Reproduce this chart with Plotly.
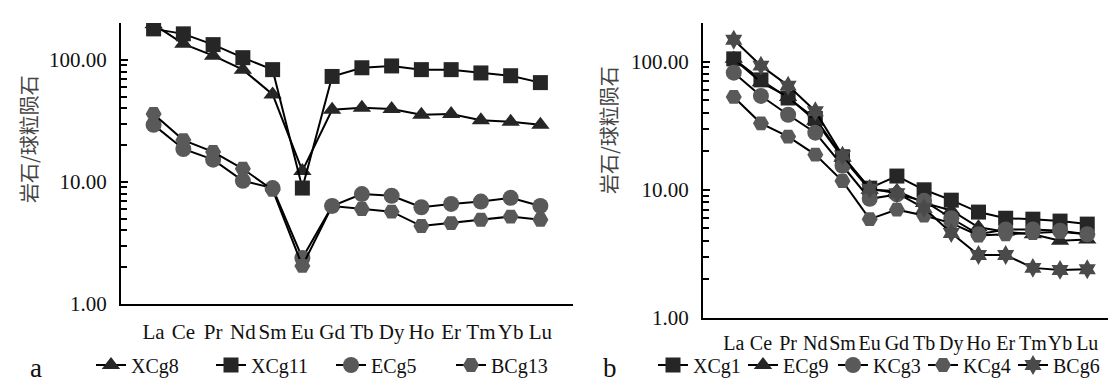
import plotly.graph_objects as go

ree = ["La", "Ce", "Pr", "Nd", "Sm", "Eu", "Gd", "Tb", "Dy", "Ho", "Er", "Tm", "Yb", "Lu"]

# panel a
xcg8 = [195, 135, 108, 83, 52, 12.3, 39, 40.5, 39.5, 35.4, 36, 32, 31, 29.3]
xcg11 = [179, 163, 133, 104, 83, 8.9, 73, 86, 89, 83, 83, 78, 74, 65]
ecg5 = [29.3, 18.6, 15.2, 10.2, 8.9, 2.38, 6.35, 7.95, 7.7, 6.2, 6.6, 6.9, 7.4, 6.35]
bcg13 = [36, 22, 17.6, 12.8, 8.6, 2.05, 6.35, 6.0, 5.7, 4.35, 4.6, 4.9, 5.2, 4.9]

# panel b
xcg1 = [105, 72, 52, 36, 18.1, 10.3, 12.8, 10, 8.3, 6.7, 6.0, 5.9, 5.7, 5.4]
ecg9 = [105, 69, 53, 34.6, 17.8, 10, 9.8, 7.9, 6.9, 5.1, 4.7, 4.5, 4.0, 4.1]
kcg3 = [82, 54, 38.5, 27.9, 15.4, 8.5, 9.2, 8.2, 6.0, 4.5, 4.9, 4.9, 4.8, 4.5]
kcg4 = [53, 33, 26, 18.8, 11.7, 5.9, 7.0, 6.3, 5.5, 4.4, 4.5, 4.6, 4.7, 4.5]
bcg6 = [148, 93, 65, 41, 18.5, 10.2, 9.4, 7.2, 4.6, 3.1, 3.1, 2.46, 2.37, 2.4]

ytick_vals = [1, 10, 100]
ytick_text = ["1.00", "10.00", "100.00"]
minor_vals = [2, 3, 4, 5, 6, 7, 8, 9, 20, 30, 40, 50, 60, 70, 80, 90, 200]

W, H = 1116, 385
DARK = "#262626"
GREY = "#595959"
STAR = "#4a4a4a"
SERIF = "Liberation Serif, Times New Roman, serif"
CJK = "Noto Sans CJK SC"

fig = go.Figure()


def add(name, y, symbol, color, size, xa, ya, legend):
    fig.add_trace(go.Scatter(
        x=ree, y=y, name=name, mode="lines+markers",
        line=dict(color="#000000", width=2),
        marker=dict(symbol=symbol, color=color, size=size, line=dict(width=0)),
        xaxis=xa, yaxis=ya, legend=legend))


add("XCg8", xcg8, "triangle-up", DARK, 16, "x", "y", "legend")
add("XCg11", xcg11, "square", DARK, 15, "x", "y", "legend")
add("ECg5", ecg5, "circle", GREY, 16, "x", "y", "legend")
add("BCg13", bcg13, "hexagon2", GREY, 16, "x", "y", "legend")

add("XCg1", xcg1, "square", DARK, 15, "x2", "y2", "legend2")
add("ECg9", ecg9, "triangle-up", DARK, 16, "x2", "y2", "legend2")
add("KCg3", kcg3, "circle", GREY, 16, "x2", "y2", "legend2")
add("KCg4", kcg4, "hexagon2", GREY, 16, "x2", "y2", "legend2")
add("BCg6", bcg6, "hexagram", STAR, 15, "x2", "y2", "legend2")


def px_x(a, b):
    return [a / W, b / W]


def px_y(top, bottom):
    return [1 - bottom / H, 1 - top / H]


xcommon = dict(type="category", showline=True, linecolor="#000", linewidth=2,
               ticks="", showgrid=False, zeroline=False, tickangle=0,
               tickmode="array", tickvals=ree, ticktext=ree)
ycommon = dict(type="log", range=[0, 2.301], showline=True, linecolor="#000", linewidth=2,
               showgrid=False, zeroline=False, tickvals=ytick_vals, ticktext=ytick_text,
               ticks="inside", ticklen=7, tickwidth=1.5, tickcolor="#000",
               minor=dict(ticks="inside", ticklen=6, tickwidth=1.5, tickcolor="#000",
                          tickvals=minor_vals, showgrid=False),
               tickfont=dict(family=SERIF, size=21, color="#111"), ticklabelstandoff=8)

fig.update_layout(
    width=W, height=H, margin=dict(l=0, r=0, t=0, b=0, autoexpand=False),
    paper_bgcolor="white", plot_bgcolor="white",
    xaxis=dict(domain=px_x(113, 565), anchor="y", ticklabelstandoff=8,
               tickfont=dict(family=SERIF, size=21, color="#111"), **xcommon),
    yaxis=dict(domain=px_y(15, 296), anchor="x", **ycommon),
    xaxis2=dict(domain=px_x(695, 1110), anchor="y2", ticklabelstandoff=6,
                tickfont=dict(family=SERIF, size=20, color="#111"), **xcommon),
    yaxis2=dict(domain=px_y(15, 310), anchor="x2", **ycommon),
    legend=dict(orientation="h", x=83 / W, y=1 - 357 / H, xanchor="left", yanchor="middle",
                font=dict(family=SERIF, size=20, color="#111"), bgcolor="rgba(0,0,0,0)",
                entrywidth=75, entrywidthmode="pixels", itemwidth=30),
    legend2=dict(orientation="h", x=645 / W, y=1 - 357 / H, xanchor="left", yanchor="middle",
                 font=dict(family=SERIF, size=20, color="#111"), bgcolor="rgba(0,0,0,0)",
                 entrywidth=45, entrywidthmode="pixels", itemwidth=30),
    showlegend=True,
)

fig.add_annotation(text="岩石/球粒陨石", x=20 / W, y=1 - 131 / H, xref="paper", yref="paper",
                   textangle=-90, showarrow=False, xanchor="center", yanchor="middle",
                   font=dict(family=CJK, size=20, color="#444"))
fig.add_annotation(text="岩石/球粒陨石", x=600 / W, y=1 - 122 / H, xref="paper", yref="paper",
                   textangle=-90, showarrow=False, xanchor="center", yanchor="middle",
                   font=dict(family=CJK, size=20, color="#444"))
fig.add_annotation(text="a", x=28 / W, y=1 - 360 / H, xref="paper", yref="paper",
                   showarrow=False, xanchor="center", yanchor="middle", borderpad=0,
                   font=dict(family=SERIF, size=27, color="#111"))
fig.add_annotation(text="b", x=602 / W, y=1 - 360 / H, xref="paper", yref="paper",
                   showarrow=False, xanchor="center", yanchor="middle", borderpad=0,
                   font=dict(family=SERIF, size=27, color="#111"))

fig.write_html("out.html")
